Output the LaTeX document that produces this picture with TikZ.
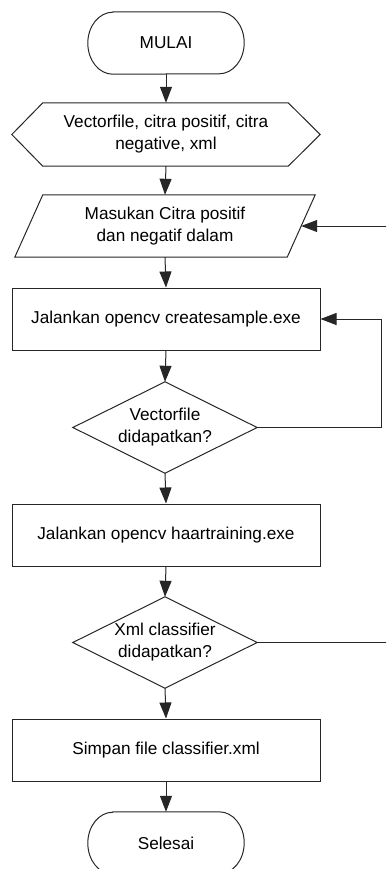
\documentclass[tikz,border=0pt]{standalone}
\usepackage{fontspec}
\setmainfont{Liberation Sans}
\usetikzlibrary{arrows.meta,calc}
\begin{document}
\begin{tikzpicture}[x=1pt,y=-1pt,
  every node/.style={font=\fontsize{17.2}{22}\selectfont, align=center, inner sep=0pt},
  ln/.style={line width=1pt, draw=black!85},
  arr/.style={ln, -{Triangle[length=16pt,width=12pt]}},
  shp/.style={line width=1pt, draw=black!85},
  box/.style={shp, draw, minimum width=308pt, minimum height=62pt},
  blank/.style={draw=none}
]
\useasboundingbox (0,0) rectangle (386,869);
\clip (0,0) rectangle (386,869);

% nodes
\node[blank, minimum width=156pt, minimum height=62pt] (start) at (166,43) {MULAI};
\node[blank, minimum width=308pt, minimum height=63pt] (inp) at (166,134.5) {Vectorfile, citra positif, citra\\negative, xml};
\node[blank, minimum width=272pt, minimum height=62pt] (par) at (165,226) {Masukan Citra positif\\dan negatif dalam};
\node[box] (r1) at (166,319) {Jalankan opencv createsample.exe};
\node[blank, minimum width=184pt, minimum height=91pt] (d1) at (165,427.5) {Vectorfile\\didapatkan?};
\node[box] (r2) at (166,535) {Jalankan opencv haartraining.exe};
\node[blank, minimum width=184pt, minimum height=91pt] (d2) at (165,642.5) {Xml classifier\\didapatkan?};
\node[box] (r3) at (166,750) {Simpan file classifier.xml};
\node[blank, minimum width=156pt, minimum height=62pt] (stop) at (166,843) {Selesai};

% shapes
\draw[shp] ([xshift=25pt]start.north west) -- ([xshift=-25pt]start.north east)
  arc[start angle=90,end angle=-90,x radius=25pt,y radius=31pt]
  -- ([xshift=25pt]start.south west)
  arc[start angle=270,end angle=90,x radius=25pt,y radius=31pt] -- cycle;
\draw[shp] ([xshift=25pt]stop.north west) -- ([xshift=-25pt]stop.north east)
  arc[start angle=90,end angle=-90,x radius=25pt,y radius=31pt]
  -- ([xshift=25pt]stop.south west)
  arc[start angle=270,end angle=90,x radius=25pt,y radius=31pt] -- cycle;
\draw[shp] (inp.west) -- ([xshift=31pt]inp.north west) -- ([xshift=-32pt]inp.north east)
  -- (inp.east) -- ([xshift=-32pt]inp.south east) -- ([xshift=31pt]inp.south west) -- cycle;
\draw[shp] ([xshift=14pt]par.north west) -- ([xshift=14pt]par.north east)
  -- ([xshift=-14pt]par.south east) -- ([xshift=-14pt]par.south west) -- cycle;
\draw[shp] (d1.north) -- (d1.east) -- (d1.south) -- (d1.west) -- cycle;
\draw[shp] (d2.north) -- (d2.east) -- (d2.south) -- (d2.west) -- cycle;

% connectors
\coordinate (inR) at (387,226);
\coordinate (loop) at (381,427.5);
\coordinate (out2) at (387,642.5);
\draw[arr] (start.south) -- (inp.north);
\draw[arr] (inp.south) -- (par.north);
\draw[arr] (inR) -- (par.east);
\draw[arr] (par.south) -- (r1.north);
\draw[arr] (r1.south) -- (d1.north);
\draw[arr] (d1.east) -- (loop) |- (r1.east);
\draw[arr] (d1.south) -- (r2.north);
\draw[arr] (r2.south) -- (d2.north);
\draw[ln] (d2.east) -- (out2);
\draw[arr] (d2.south) -- (r3.north);
\draw[arr] (r3.south) -- (stop.north);
\end{tikzpicture}
\end{document}
